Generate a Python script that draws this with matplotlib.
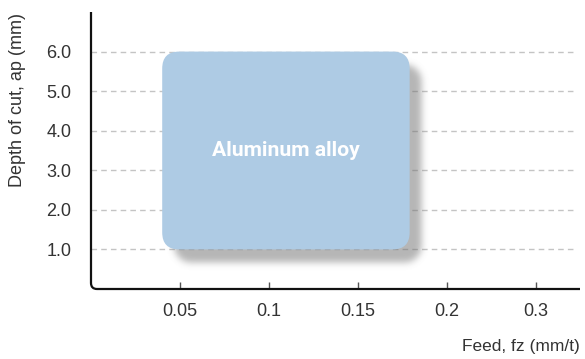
import numpy as np
import matplotlib
matplotlib.use("Agg")
import matplotlib.pyplot as plt
from matplotlib.patches import FancyBboxPatch, PathPatch
from matplotlib.path import Path

# ---- data ----
x_tick_pos = [0.05, 0.10, 0.15, 0.20, 0.25]
x_tick_labels = ["0.05", "0.1", "0.15", "0.2", "0.3"]
y_ticks = [1.0, 2.0, 3.0, 4.0, 5.0, 6.0]
y_tick_labels = ["1.0", "2.0", "3.0", "4.0", "5.0", "6.0"]
region_name = "Aluminum alloy"
region_feed = [0.04, 0.179]   # feed range (x)
region_depth = [1.0, 6.0]     # depth range (y)
x_label = "Feed, fz (mm/t)"
y_label = "Depth of cut, ap (mm)"

W, H, DPI = 585, 359, 100
fig = plt.figure(figsize=(W / DPI, H / DPI), dpi=DPI)
ax_l, ax_r, ax_t, ax_b = 91, 580, 12, 289
ax = fig.add_axes([ax_l / W, (H - ax_b) / H, (ax_r - ax_l) / W, (ax_b - ax_t) / H])
xmax, ymax = 0.2747, 7.0
ax.set_xlim(0, xmax)
ax.set_ylim(0, ymax)

axw, axh = ax_r - ax_l, ax_b - ax_t
ux = xmax / axw  # data per px
uy = ymax / axh

# grid
for yv in y_ticks:
    ax.plot([0, 0.2705], [yv, yv], color="#c4c4c4", lw=1.0, ls=(0, (4, 3)), zorder=1)

# shadow (blurred rounded rect)
gx = np.arange(axw) + 0.5
gy = np.arange(axh) + 0.5
X, Y = np.meshgrid(gx, gy)
offx, offy = 12.0, 13.0
rad = 17.0
x0 = region_feed[0] / ux + offx
x1 = region_feed[1] / ux + offx
y0 = region_depth[0] / uy - offy
y1 = region_depth[1] / uy - offy
cx = np.clip(X, x0 + rad, x1 - rad)
cy = np.clip(Y, y0 + rad, y1 - rad)
d = np.hypot(X - cx, Y - cy)
mask = np.clip(rad - d + 0.5, 0, 1)
sigma = 3.5
k = np.arange(-int(3 * sigma), int(3 * sigma) + 1)
kern = np.exp(-k ** 2 / (2 * sigma ** 2))
kern /= kern.sum()
blur = np.apply_along_axis(lambda r: np.convolve(r, kern, mode="same"), 1, mask)
blur = np.apply_along_axis(lambda c: np.convolve(c, kern, mode="same"), 0, blur)
rgba = np.zeros((axh, axw, 4))
rgba[..., 0:3] = 0.45
rgba[..., 3] = blur * 0.52
ax.imshow(rgba, extent=(0, xmax, 0, ymax), origin="lower", aspect="auto",
          zorder=2, interpolation="bilinear")

# box
rs = rad * ux
box = FancyBboxPatch((region_feed[0], region_depth[0]),
                     region_feed[1] - region_feed[0], region_depth[1] - region_depth[0],
                     boxstyle=f"round,pad=0,rounding_size={rs}",
                     mutation_aspect=uy / ux,
                     facecolor="#aecbe4", edgecolor="none", zorder=3)
ax.add_patch(box)
ax.text((region_feed[0] + region_feed[1]) / 2, 3.5, region_name,
        ha="center", va="center", color="white", fontsize=15.2,
        fontweight="bold", family="Roboto", zorder=4)

# spines with rounded corner
for s in ax.spines.values():
    s.set_visible(False)
r = 6.0
rx, ry = r / axw, r / axh
verts = [(0, 1), (0, ry), (0, 0), (rx, 0), (1, 0)]
codes = [Path.MOVETO, Path.LINETO, Path.CURVE3, Path.CURVE3, Path.LINETO]
ax.add_patch(PathPatch(Path(verts, codes), transform=ax.transAxes, fill=False,
                       edgecolor="#111111", lw=1.6, clip_on=False, zorder=5,
                       capstyle="butt", joinstyle="round"))

ax.set_xticks(x_tick_pos)
ax.set_xticklabels(x_tick_labels)
ax.set_yticks(y_ticks)
ax.set_yticklabels(y_tick_labels)
ax.tick_params(axis="x", direction="in", length=5, width=1, color="#555555",
               pad=10, labelsize=13, labelcolor="#333333")
ax.tick_params(axis="y", length=0, pad=14, labelsize=13, labelcolor="#333333")
for lab in ax.get_xticklabels() + ax.get_yticklabels():
    lab.set_family("Liberation Sans")

fig.text(18 / W, 1 - 100 / H, y_label, rotation=90, ha="center", va="center",
         fontsize=13, color="#333333", family="Liberation Sans")
fig.text(580 / W, 1 - 347 / H, x_label, ha="right", va="center",
         fontsize=12.5, color="#333333", family="Liberation Sans")

fig.savefig("out.png", dpi=DPI)
